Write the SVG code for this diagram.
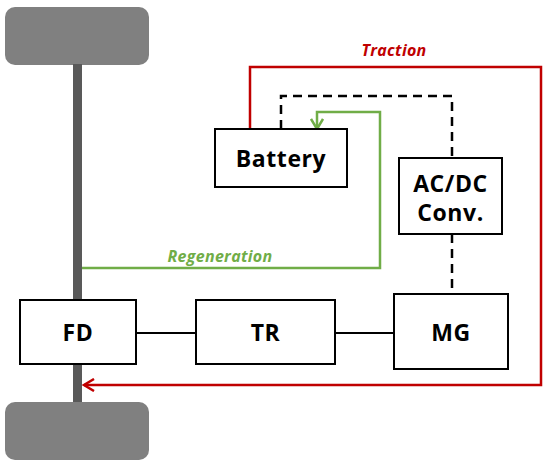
<svg xmlns="http://www.w3.org/2000/svg" width="550" height="466" viewBox="0 0 550 466">
<defs>
<style>
.box{fill:#fff;stroke:#000;stroke-width:2}
.lbl{font-family:"Open Sans","Liberation Sans",sans-serif;font-weight:bold;font-size:23px;letter-spacing:0.6px;text-anchor:middle;fill:#000}
.wheel{fill:#808080}
.red{fill:none;stroke:#C00000;stroke-width:2.5}
.grn{fill:none;stroke:#70AD47;stroke-width:2.5}
.dash{fill:none;stroke:#000;stroke-width:2.5;stroke-dasharray:9,6}
.blk{fill:none;stroke:#000;stroke-width:2}
.it{font-family:"Open Sans","Liberation Sans",sans-serif;font-weight:bold;font-style:italic;font-size:16px;letter-spacing:0.3px;text-anchor:middle}
</style>
<marker id="arR" markerWidth="14" markerHeight="14" refX="11" refY="7" orient="auto" markerUnits="userSpaceOnUse"><path d="M1,1 L11,7 L1,13" fill="none" stroke="#C00000" stroke-width="2.5"/></marker>
<marker id="arG" markerWidth="14" markerHeight="14" refX="11" refY="7" orient="auto" markerUnits="userSpaceOnUse"><path d="M1,1 L11,7 L1,13" fill="none" stroke="#70AD47" stroke-width="2.5"/></marker>
</defs>
<g id="wheel-top"><rect class="wheel" x="5" y="7" width="144" height="58" rx="10"/></g>
<g id="axle"><rect x="73" y="64" width="9" height="340" fill="#595959"/></g>
<g id="wheel-bottom"><rect class="wheel" x="5" y="402" width="144" height="58" rx="10"/></g>
<g id="connectors">
<path class="red" d="M250,129 V67 H541 V385 H84" marker-end="url(#arR)"/>
<path class="dash" d="M281,129 V96 H452 V158"/>
<path class="dash" d="M452,234 V293"/>
<path class="grn" d="M82,268 H380 V112 H317 V129" marker-end="url(#arG)"/>
<path class="blk" d="M136,333 H196"/>
<path class="blk" d="M335,333 H394"/>
</g>
<g id="battery"><rect class="box" x="215" y="129" width="132" height="58"/><text class="lbl" x="281" y="167">Battery</text></g>
<g id="acdc"><rect class="box" x="399" y="158" width="103" height="76"/><text class="lbl" x="450.5" y="192">AC/DC</text><text class="lbl" x="450.5" y="221">Conv.</text></g>
<g id="fd"><rect class="box" x="20" y="300" width="116" height="64"/><text class="lbl" x="78" y="341">FD</text></g>
<g id="tr"><rect class="box" x="196" y="300" width="139" height="64"/><text class="lbl" x="265.5" y="341">TR</text></g>
<g id="mg"><rect class="box" x="394" y="294" width="114" height="75"/><text class="lbl" x="451" y="341">MG</text></g>
<text class="it" x="394" y="56" fill="#C00000">Traction</text>
<text class="it" x="220" y="262" fill="#70AD47">Regeneration</text>
</svg>
